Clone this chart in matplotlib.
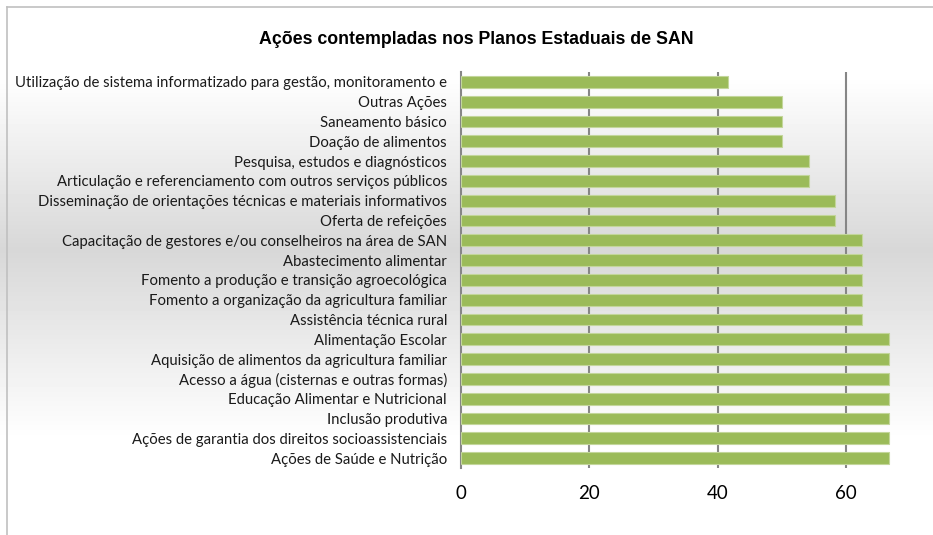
import matplotlib
matplotlib.use("Agg")
import matplotlib.pyplot as plt
import numpy as np
from matplotlib.lines import Line2D

categories = [
    "Utilização de sistema informatizado para gestão, monitoramento e",
    "Outras Ações",
    "Saneamento básico",
    "Doação de alimentos",
    "Pesquisa, estudos e diagnósticos",
    "Articulação e referenciamento com outros serviços públicos",
    "Disseminação de orientações técnicas e materiais informativos",
    "Oferta de refeições",
    "Capacitação de gestores e/ou conselheiros na área de SAN",
    "Abastecimento alimentar",
    "Fomento a produção e transição agroecológica",
    "Fomento a organização da agricultura familiar",
    "Assistência técnica rural",
    "Alimentação Escolar",
    "Aquisição de alimentos da agricultura familiar",
    "Acesso a água (cisternas e outras formas)",
    "Educação Alimentar e Nutricional",
    "Inclusão produtiva",
    "Ações de garantia dos direitos socioassistenciais",
    "Ações de Saúde e Nutrição",
]
values = [41.7, 50.0, 50.0, 50.0, 54.2, 54.2, 58.3, 58.3, 62.5, 62.5,
          62.5, 62.5, 62.5, 66.7, 66.7, 66.7, 66.7, 66.7, 66.7, 66.7]
xticks = [0, 20, 40, 60]

fig = plt.figure(figsize=(9.33, 5.35), dpi=100)

# background gradient
bg = fig.add_axes([0, 0, 1, 1], zorder=-10)
ys = np.linspace(0, 1, 535)  # 0 = top
def shade(y):
    px = y * 535
    if px < 75:
        return 1.0
    if px < 250:
        return 1.0 - (px - 75) / 175 * 0.155
    if px < 440:
        return 0.845 + (px - 250) / 190 * 0.155
    return 1.0
col = np.array([shade(y) for y in ys])
img = np.repeat(col[:, None], 10, axis=1)
bg.imshow(img, cmap="gray", vmin=0, vmax=1, aspect="auto", extent=[0, 1, 0, 1])
bg.set_xlim(0, 1); bg.set_ylim(0, 1)
bg.axis("off")
bg.add_line(Line2D([7/933, 7/933], [0, 1-7/535], color="#c0c0c0", lw=1.2))
bg.add_line(Line2D([7/933, 1], [1-7/535, 1-7/535], color="#c0c0c0", lw=1.2))

ax = fig.add_axes([461/933, 1-468/535, (910-461)/933, (468-72)/535])
ax.set_facecolor("none")
y = np.arange(len(categories))
ax.barh(y, values, height=0.6, color="#9BBB59", edgecolor="#C3D69B", linewidth=0.8, zorder=3)
ax.set_ylim(len(categories) - 0.5, -0.5)
ax.set_xlim(0, 70)
ax.set_yticks(y)
ax.set_yticklabels(categories, fontsize=10.75, family=["Lato", "DejaVu Sans"], color="#1a1a1a")
ax.set_xticks(xticks)
ax.set_xticklabels([str(t) for t in xticks], fontsize=13.5, family=["Lato", "DejaVu Sans"])
ax.tick_params(axis="y", length=0, pad=10)
ax.tick_params(axis="x", length=0, pad=12.5)
for t in xticks[1:]:
    ax.axvline(t, color="#868686", lw=1.5, zorder=1)
for s in ["top", "right", "bottom"]:
    ax.spines[s].set_visible(False)
ax.spines["left"].set_color("#868686")
ax.spines["left"].set_linewidth(1.5)

fig.text(476/933, 1-40/535, "Ações contempladas nos Planos Estaduais de SAN",
         ha="center", va="center", fontsize=12.8, fontweight="bold",
         family=["Liberation Sans", "DejaVu Sans"])

fig.savefig("out.png", dpi=100)
